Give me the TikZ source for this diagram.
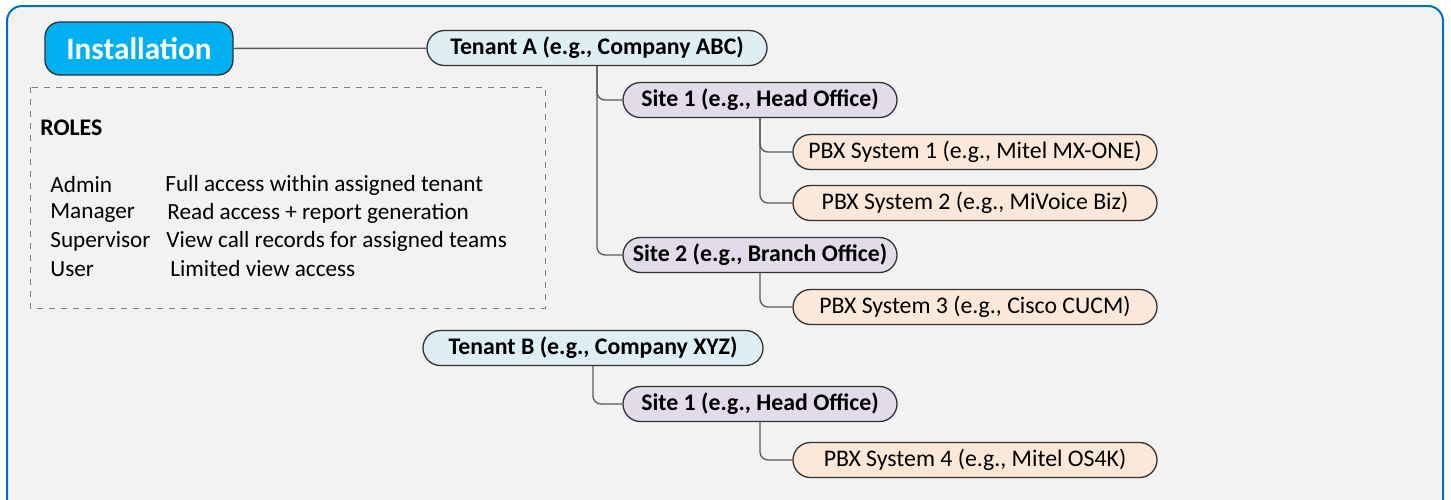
\documentclass[tikz,border=0pt]{standalone}
\usepackage{fontspec}
\setmainfont{Carlito}
\usetikzlibrary{positioning}
\usepackage{xcolor}

\definecolor{framefill}{HTML}{F2F2F2}
\definecolor{frameblue}{HTML}{0070C0}
\definecolor{instfill}{HTML}{00B0F0}
\definecolor{tenantfill}{HTML}{DDEEF5}
\definecolor{sitefill}{HTML}{E2DCEA}
\definecolor{pbxfill}{HTML}{FCE8D8}
\definecolor{boxline}{HTML}{333333}
\definecolor{linkgray}{HTML}{595959}
\definecolor{rolesgray}{HTML}{7F7F7F}

\tikzset{
  pillbox/.style={draw=boxline, line width=0.65pt, rounded corners=8.75pt,
    minimum height=17.5pt, inner sep=0pt},
  tenantbox/.style={pillbox, fill=tenantfill, minimum width=170pt,
    font=\fontsize{11.9}{14}\selectfont\bfseries},
  sitebox/.style={pillbox, fill=sitefill, minimum width=137pt,
    font=\fontsize{11.9}{14}\selectfont\bfseries},
  pbxbox/.style={pillbox, fill=pbxfill, minimum width=182pt,
    font=\fontsize{11.9}{14}\selectfont},
  roletext/.style={anchor=west, inner sep=0pt, font=\fontsize{11.6}{14}\selectfont},
  link/.style={draw=linkgray, line width=0.65pt, rounded corners=4pt}
}

\begin{document}
\begin{tikzpicture}[x=0.5pt, y=-0.5pt]
    \clip (0,0) rectangle (1451,499);

    % Outer frame
    \draw[frameblue, line width=1pt, fill=framefill, rounded corners=7.5pt] (7,6) rectangle (1443,530);

    % Box for Installation
    \node[draw=boxline, line width=0.65pt, fill=instfill, rounded corners=7.5pt,
          minimum width=94pt, minimum height=26.5pt, text=white,
          font=\fontsize{15.6}{18}\selectfont\bfseries] (Install) at (139,48.5) {Installation};

    % Box for roles
    \draw[rolesgray, dashed, line width=0.5pt] (30,87) rectangle (545,308);
    \node[roletext, font=\fontsize{11.9}{14}\selectfont\bfseries] (RolesTitle) at (40,128) {ROLES};
    \node[roletext] (RoleAdmin) at (50,185) {Admin};
    \node[roletext] (RoleAdminText) at (165,185) {Full access within assigned tenant};
    \node[roletext] (RoleManager) at (50,213) {Manager};
    \node[roletext] (RoleManagerText) at (167,213) {Read access + report generation};
    \node[roletext] (RoleSuper) at (50,241) {Supervisor};
    \node[roletext] (RoleSuperText) at (166,241) {View call records for assigned teams};
    \node[roletext] (RoleUser) at (50,269) {User};
    \node[roletext] (RoleUserText) at (170,269) {Limited view access};

    % Tenant A tree
    \node[tenantbox] (TenantA) at (597,48) {Tenant A (e.g., Company ABC)};
    \node[sitebox] (SiteAOne) at (760,100) {Site 1 (e.g., Head Office)};
    \node[pbxbox] (PbxOne) at (975,152) {PBX System 1 (e.g., Mitel MX-ONE)};
    \node[pbxbox] (PbxTwo) at (975,203) {PBX System 2 (e.g., MiVoice Biz)};
    \node[sitebox] (SiteATwo) at (760,255) {Site 2 (e.g., Branch Office)};
    \node[pbxbox] (PbxThree) at (975,307) {PBX System 3 (e.g., Cisco CUCM)};

    % Tenant B tree
    \node[tenantbox] (TenantB) at (593,348) {Tenant B (e.g., Company XYZ)};
    \node[sitebox] (SiteBOne) at (760,404) {Site 1 (e.g., Head Office)};
    \node[pbxbox] (PbxFour) at (975,460) {PBX System 4 (e.g., Mitel OS4K)};

    % Connectors
    \draw[link] (Install) -- (TenantA);
    \draw[link] (TenantA.south) |- (SiteAOne.west);
    \draw[link] (TenantA.south) |- (SiteATwo.west);
    \draw[link] (SiteAOne.south) |- (PbxOne.west);
    \draw[link] (SiteAOne.south) |- (PbxTwo.west);
    \draw[link] (SiteATwo.south) |- (PbxThree.west);
    \draw[link] (TenantB.south) |- (SiteBOne.west);
    \draw[link] (SiteBOne.south) |- (PbxFour.west);
\end{tikzpicture}
\end{document}
